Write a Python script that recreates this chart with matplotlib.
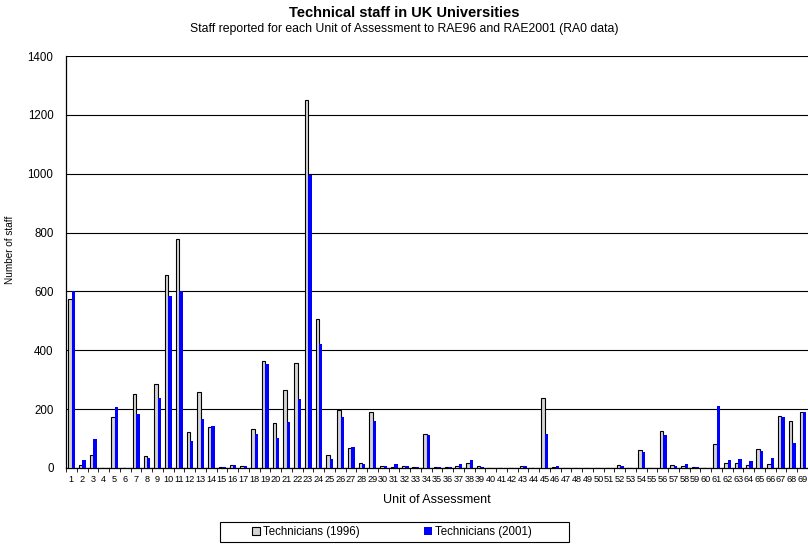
import numpy as np
import matplotlib
matplotlib.use("Agg")
import matplotlib.pyplot as plt
from matplotlib.patches import Rectangle

plt.rcParams["font.family"] = ["Liberation Sans", "DejaVu Sans"]

# Unit of Assessment numbers 1..69
units = list(range(1, 70))

# Technical staff, RAE96
tech_1996 = [575, 9, 44, 0, 174, 0, 253, 42, 284, 656,
             777, 124, 258, 138, 3, 9, 6, 131, 362, 154,
             266, 357, 1252, 508, 45, 196, 67, 18, 189, 7,
             3, 7, 5, 117, 3, 3, 8, 18, 7, 0,
             0, 0, 8, 0, 239, 4, 0, 0, 0, 0,
             0, 11, 0, 62, 0, 126, 11, 7, 2, 0,
             82, 17, 18, 10, 64, 14, 176, 161, 189]

# Technical staff, RAE2001
tech_2001 = [600, 28, 99, 0, 206, 0, 183, 34, 239, 583,
             600, 92, 165, 144, 3, 11, 6, 115, 352, 103,
             156, 235, 997, 421, 29, 175, 72, 15, 161, 7,
             15, 8, 5, 112, 5, 3, 12, 27, 4, 0,
             0, 0, 7, 0, 117, 8, 0, 0, 0, 0,
             0, 6, 0, 56, 0, 112, 7, 15, 4, 0,
             212, 27, 31, 24, 59, 33, 173, 85, 190]

x = np.array(units)
w = 0.32

fig = plt.figure(figsize=(8.08, 5.45), dpi=100)
ax = fig.add_axes([66 / 808, 1 - 468 / 545, 742 / 808, 412 / 545])

ax.bar(x - w / 2 + 0.03, tech_1996, width=w, color="#d4d4d4",
       edgecolor="black", linewidth=0.8, label="Technicians (1996)", zorder=3)
ax.bar(x + w / 2 + 0.03, tech_2001, width=w, color="#0000ff",
       edgecolor="none", label="Technicians (2001)", zorder=3)

ax.set_xlim(0.5, 69.5)
ax.set_ylim(0, 1400)
ax.set_yticks(range(0, 1401, 200))
ax.yaxis.grid(True, color="black", linewidth=0.8, zorder=0)
ax.set_axisbelow(True)

ax.set_xticks(x)
ax.set_xticklabels([str(u) for u in units], fontsize=6.6)
ax.set_xticks(np.arange(0.5, 70, 1), minor=True)
ax.tick_params(axis="x", which="major", length=0, pad=5)
ax.tick_params(axis="x", which="minor", length=3, direction="out")
ax.tick_params(axis="y", length=0, labelsize=8.3, pad=9)

for s in ["top", "right"]:
    ax.spines[s].set_visible(False)
ax.spines["left"].set_linewidth(0.9)
ax.spines["bottom"].set_linewidth(0.9)

ax.set_xlabel("Unit of Assessment", fontsize=9, labelpad=7)
ax.set_ylabel("Number of staff", fontsize=7.2)
ax.yaxis.set_label_coords(-0.069, 0.53)

fig.text(0.5, 1 - 13 / 545, "Technical staff in UK Universities",
         ha="center", va="center", fontsize=10.5, fontweight="bold")
fig.text(0.5, 1 - 29 / 545,
         "Staff reported for each Unit of Assessment to RAE96 and RAE2001 (RA0 data)",
         ha="center", va="center", fontsize=8.8)

# legend box drawn by hand (Excel-style uneven padding)
fig.patches.append(Rectangle((220 / 808, 1 - 542 / 545), 349 / 808, 20 / 545,
                             transform=fig.transFigure, facecolor="white",
                             edgecolor="black", linewidth=0.8, zorder=1))
fig.legend(loc="center left", bbox_to_anchor=(252 / 808, 1 - 532 / 545),
           ncol=2, fontsize=8.3, frameon=False, handlelength=0.7,
           handleheight=0.7, handletextpad=0.25, columnspacing=5.6,
           borderpad=0, borderaxespad=0)

fig.savefig("out.png", dpi=100)
